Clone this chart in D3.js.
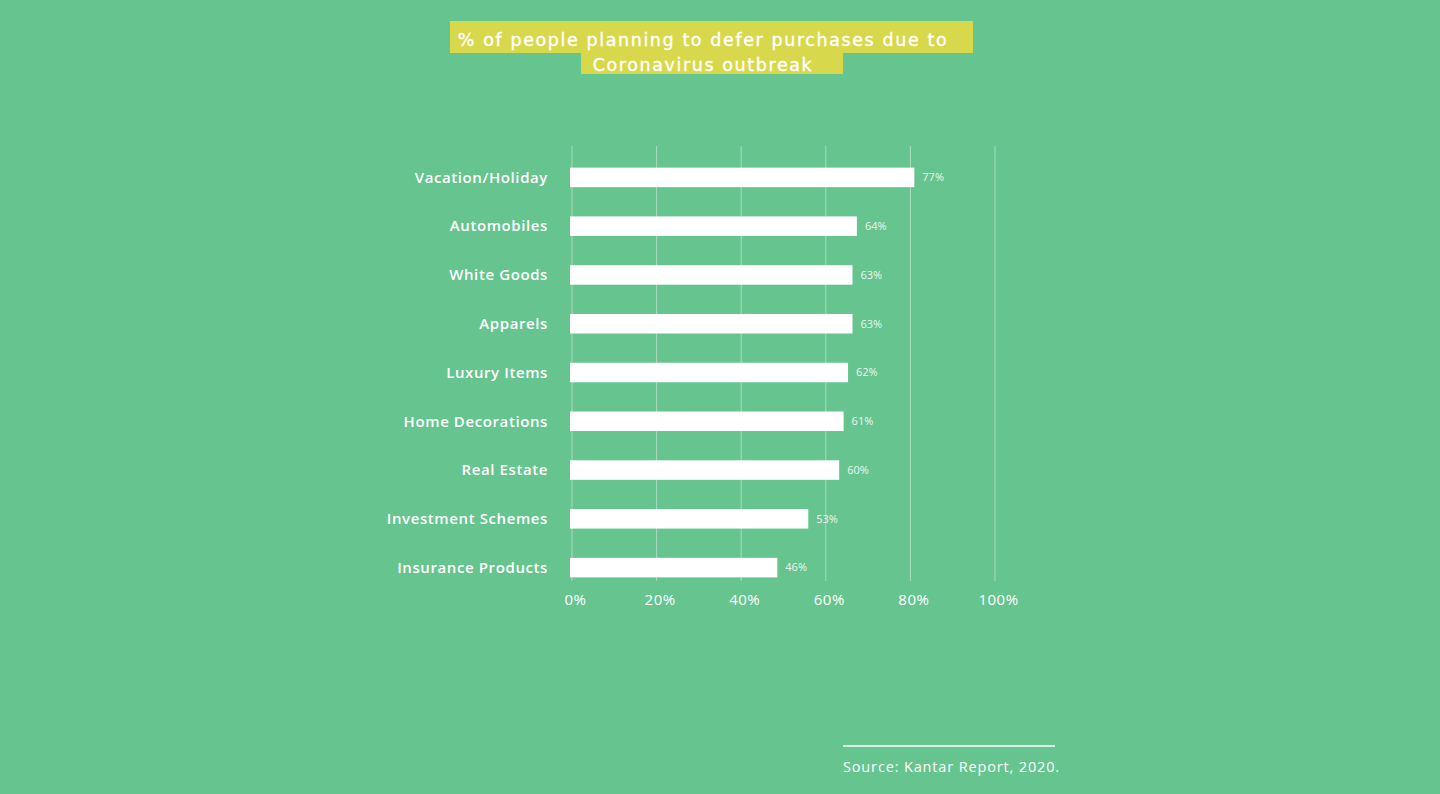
<!DOCTYPE html>
<html>
<head>
<meta charset="utf-8">
<script src="https://cdn.jsdelivr.net/npm/d3@7/dist/d3.min.js"></script>
<style>
  html, body { margin: 0; padding: 0; background: #66c48f; }
  svg { display: block; }
</style>
</head>
<body>
<svg id="chart" width="1440" height="794" font-family="'Open Sans', 'Noto Sans', sans-serif" fill="#ffffff"></svg>
<script>
const titleLines = ["% of people planning to defer purchases due to", "Coronavirus outbreak"];
const categories = ["Vacation/Holiday", "Automobiles", "White Goods", "Apparels", "Luxury Items",
                    "Home Decorations", "Real Estate", "Investment Schemes", "Insurance Products"];
const values = [77, 64, 63, 63, 62, 61, 60, 53, 46];
const tickValues = [0, 20, 40, 60, 80, 100];
const sourceText = "Source: Kantar Report, 2020.";

const svg = d3.select("#chart");
svg.append("rect").attr("width", 1440).attr("height", 794).attr("fill", "#66c48f");

// Title with highlight boxes
const titleBoxes = [
  { x: 450, y: 21, w: 523, h: 32 },
  { x: 581, y: 53, w: 262, h: 21 }
];
titleBoxes.forEach(b => {
  svg.append("rect").attr("x", b.x).attr("y", b.y).attr("width", b.w).attr("height", b.h)
    .attr("fill", "#d8d84c");
});
const titleG = svg.append("g").attr("font-family", "'DejaVu Sans', sans-serif")
  .attr("fill", "#ffffff").attr("stroke", "#ffffff").attr("stroke-width", 0.35);
titleG.append("text").attr("x", 703).attr("y", 46).attr("text-anchor", "middle")
  .attr("font-size", 17.5).attr("letter-spacing", 1.6).text(titleLines[0]);
titleG.append("text").attr("x", 703).attr("y", 70.5).attr("text-anchor", "middle")
  .attr("font-size", 17.5).attr("letter-spacing", 1.6).text(titleLines[1]);

// Scales
const x = d3.scaleLinear().domain([0, 100]).range([572, 995]);   // axis / grid
const xBar = d3.scaleLinear().domain([0, 100]).range([574, 1016]); // bar ends as drawn in reference
const barStart = 570;
const y = d3.scaleBand().domain(categories).range([153, 592]).paddingInner(0.6).paddingOuter(0.3);

// Gridlines
svg.append("g").selectAll("line").data(tickValues).join("line")
  .attr("x1", d => x(d)).attr("x2", d => x(d))
  .attr("y1", 146).attr("y2", 581)
  .attr("stroke", "#e6ece6").attr("stroke-opacity", 0.55).attr("stroke-width", 1);

// Bars
svg.append("g").selectAll("rect").data(values).join("rect")
  .attr("x", barStart)
  .attr("y", (d, i) => y(categories[i]))
  .attr("width", d => xBar(d) - barStart)
  .attr("height", y.bandwidth())
  .attr("fill", "#ffffff");

// Value labels
svg.append("g").selectAll("text").data(values).join("text")
  .attr("x", d => xBar(d) + 8)
  .attr("y", (d, i) => y(categories[i]) + y.bandwidth() / 2)
  .attr("dy", "0.35em")
  .attr("font-size", 11)
  .attr("fill", "#ffffff")
  .attr("fill-opacity", 0.9)
  .text(d => d + "%");

// Category labels
svg.append("g").selectAll("text").data(categories).join("text")
  .attr("x", 548)
  .attr("y", d => y(d) + y.bandwidth() / 2)
  .attr("dy", "0.35em")
  .attr("text-anchor", "end")
  .attr("font-size", 15)
  .attr("font-weight", 600)
  .attr("letter-spacing", 0.6)
  .attr("fill", "#ffffff")
  .text(d => d);

// X axis
const axis = d3.axisBottom(x).tickValues(tickValues).tickFormat(d => d + "%").tickSize(0).tickPadding(0);
const gAxis = svg.append("g").attr("transform", "translate(3,600)").call(axis);
gAxis.attr("font-family", null).attr("font-size", null);
gAxis.select(".domain").remove();
gAxis.selectAll("text").attr("font-size", 15).attr("font-weight", 500).attr("fill", "#ffffff")
  .attr("letter-spacing", 0.5)
  .attr("dy", "0.35em");

// Source
svg.append("line").attr("x1", 843).attr("x2", 1055).attr("y1", 746).attr("y2", 746)
  .attr("stroke", "#ffffff").attr("stroke-width", 1.5);
svg.append("text").attr("x", 843).attr("y", 772).attr("font-size", 14.5).attr("font-weight", 500)
  .attr("letter-spacing", 0.85).attr("fill", "#ffffff")
  .text(sourceText);
</script>
</body>
</html>
